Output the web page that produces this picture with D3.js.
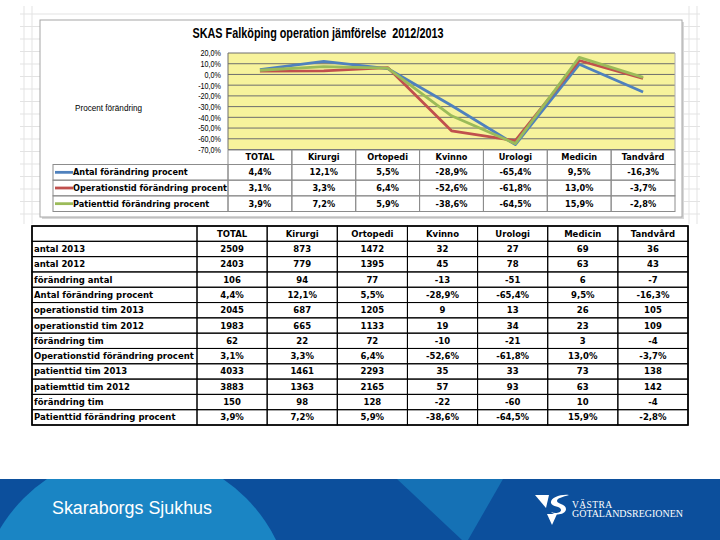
<!DOCTYPE html>
<html>
<head>
<meta charset="utf-8">
<script src="https://cdn.jsdelivr.net/npm/d3@7"></script>
<style>
  body { margin: 0; background: #fff; }
  svg { display: block; }
</style>
</head>
<body>
<svg id="slide" width="720" height="540"></svg>
<script>
// ---- data ----
const categories = ["TOTAL", "Kirurgi", "Ortopedi", "Kvinno", "Urologi", "Medicin", "Tandvård"];
const seriesNames = ["Antal förändring procent", "Operationstid förändring procent", "Patienttid förändring procent"];
const antalPct = [4.4, 12.1, 5.5, -28.9, -65.4, 9.5, -16.3];
const operationPct = [3.1, 3.3, 6.4, -52.6, -61.8, 13.0, -3.7];
const patientPct = [3.9, 7.2, 5.9, -38.6, -64.5, 15.9, -2.8];
const yTicks = [20, 10, 0, -10, -20, -30, -40, -50, -60, -70];

const antal2013 = [2509, 873, 1472, 32, 27, 69, 36];
const antal2012 = [2403, 779, 1395, 45, 78, 63, 43];
const forandringAntal = [106, 94, 77, -13, -51, 6, -7];
const opTim2013 = [2045, 687, 1205, 9, 13, 26, 105];
const opTim2012 = [1983, 665, 1133, 19, 34, 23, 109];
const forandringOpTim = [62, 22, 72, -10, -21, 3, -4];
const patTim2013 = [4033, 1461, 2293, 35, 33, 73, 138];
const patTim2012 = [3883, 1363, 2165, 57, 93, 63, 142];
const forandringPatTim = [150, 98, 128, -22, -60, 10, -4];

const pct = v => v.toFixed(1).replace(".", ",") + "%";
const num = v => String(v);

const tableRows = [
  ["antal 2013", antal2013, num],
  ["antal 2012", antal2012, num],
  ["förändring antal", forandringAntal, num],
  ["Antal förändring procent", antalPct, pct],
  ["operationstid tim 2013", opTim2013, num],
  ["operationstid tim 2012", opTim2012, num],
  ["förändring tim", forandringOpTim, num],
  ["Operationstid förändring procent", operationPct, pct],
  ["patienttid tim 2013", patTim2013, num],
  ["patiemttid tim 2012", patTim2012, num],
  ["förändring tim", forandringPatTim, num],
  ["Patienttid förändring procent", patientPct, pct]
];

const series = [antalPct, operationPct, patientPct];
const colors = ["#4f81bd", "#c0504d", "#9bbb59"];

const sans = "'Liberation Sans', Arial, sans-serif";
const boldFont = "'DejaVu Sans', Verdana, sans-serif";

// squeeze text horizontally to imitate Arial Narrow
function condense(sel, factor) {
  sel.each(function () {
    const w = this.getComputedTextLength();
    d3.select(this).attr("textLength", w * factor).attr("lengthAdjust", "spacingAndGlyphs");
  });
}

const svg = d3.select("#slide");

// ---- spreadsheet grid behind the chart ----
const grid = svg.append("g").attr("stroke", "#e3e3e3").attr("stroke-width", 1);
d3.range(14, 224, 12.5).forEach(yy => {
  grid.append("line").attr("x1", 20).attr("x2", 700).attr("y1", yy).attr("y2", yy);
});
[24, 32, 689, 697].forEach(xx => {
  grid.append("line").attr("x1", xx).attr("x2", xx).attr("y1", 6).attr("y2", 224);
});

// ---- chart frame ----
svg.append("rect").attr("x", 42).attr("y", 22).attr("width", 642).attr("height", 197).attr("fill", "#d8d8d8");
svg.append("rect").attr("x", 40).attr("y", 20).attr("width", 642).attr("height", 197)
  .attr("fill", "#fff").attr("stroke", "#a6a6a6").attr("stroke-width", 1);

svg.append("text").attr("x", 318).attr("y", 38).attr("text-anchor", "middle")
  .style("font-family", sans).style("font-weight", "bold").style("font-size", "14px")
  .style("white-space", "pre")
  .text("SKAS Falköping operation jämförelse  2012/2013")
  .attr("textLength", 251).attr("lengthAdjust", "spacingAndGlyphs");

const x = d3.scaleBand().domain(categories).range([228, 675]);
const y = d3.scaleLinear().domain([-70, 20]).range([149.5, 53]);

svg.append("rect").attr("x", 228).attr("y", y(20)).attr("width", 447).attr("height", y(-70) - y(20))
  .attr("fill", "#f7f39c");

svg.append("g").selectAll("line").data(yTicks).join("line")
  .attr("x1", 228).attr("x2", 675).attr("y1", d => y(d)).attr("y2", d => y(d))
  .attr("stroke", "#6e6e6e").attr("stroke-width", 1);
svg.append("line").attr("x1", 228).attr("x2", 228).attr("y1", y(20)).attr("y2", y(-70)).attr("stroke", "#6e6e6e");
svg.append("line").attr("x1", 675).attr("x2", 675).attr("y1", y(20)).attr("y2", y(-70)).attr("stroke", "#b0b0b0");

const yAxis = svg.append("g").attr("transform", "translate(228,0)")
  .call(d3.axisLeft(y).tickValues(yTicks).tickSize(0).tickPadding(7).tickFormat(pct));
yAxis.select(".domain").remove();
yAxis.selectAll("text").style("font-family", sans).style("font-size", "9px")
  .attr("fill", "#000").call(condense, 0.8);

svg.append("text").attr("x", 75).attr("y", 111)
  .style("font-family", sans).style("font-size", "9px")
  .text("Procent förändring").attr("textLength", 67).attr("lengthAdjust", "spacingAndGlyphs");

const line = d3.line().x((d, i) => x(categories[i]) + x.bandwidth() / 2).y(d => y(d));
svg.append("g").selectAll("path").data(series).join("path")
  .attr("d", line).attr("fill", "none").attr("stroke", (d, i) => colors[i])
  .attr("stroke-width", 2.8).attr("stroke-linejoin", "round");

// ---- data table under the chart ----
const dt = svg.append("g");
const headTop = 150, headBottom = 164.5;
const rowY = d3.scaleBand().domain(seriesNames).range([headBottom, 211.5]);
const dtFont = s => s.style("font-family", boldFont).style("font-weight", "bold").style("font-size", "8.2px");
dt.selectAll("rect.h").data(categories).join("rect").attr("class", "h")
  .attr("x", d => x(d)).attr("y", headTop).attr("width", x.bandwidth()).attr("height", headBottom - headTop)
  .attr("fill", "none").attr("stroke", "#8c8c8c");
dt.selectAll("text.h").data(categories).join("text").attr("class", "h")
  .attr("x", d => x(d) + x.bandwidth() / 2).attr("y", (headTop + headBottom) / 2).attr("dy", "0.36em")
  .attr("text-anchor", "middle").call(dtFont).text(d => d);

seriesNames.forEach((name, si) => {
  const ry = rowY(name), rh = rowY.bandwidth();
  dt.append("rect").attr("x", 53).attr("y", ry).attr("width", 228 - 53).attr("height", rh)
    .attr("fill", "none").attr("stroke", "#8c8c8c");
  dt.append("line").attr("x1", 55).attr("x2", 73).attr("y1", ry + rh / 2).attr("y2", ry + rh / 2)
    .attr("stroke", colors[si]).attr("stroke-width", 2.8);
  dt.append("text").attr("x", 73).attr("y", ry + rh / 2).attr("dy", "0.36em")
    .call(dtFont).text(name);
  categories.forEach((c, ci) => {
    dt.append("rect").attr("x", x(c)).attr("y", ry).attr("width", x.bandwidth()).attr("height", rh)
      .attr("fill", "none").attr("stroke", "#8c8c8c");
    dt.append("text").attr("x", x(c) + x.bandwidth() / 2).attr("y", ry + rh / 2).attr("dy", "0.36em")
      .attr("text-anchor", "middle").call(dtFont).text(pct(series[si][ci]));
  });
});

// ---- lower table ----
const tx = d3.scaleBand().domain(categories).range([197, 688]);
const ty = d3.scaleBand().domain(d3.range(tableRows.length + 1)).range([226, 425]);
const lt = svg.append("g");
const cellFont = s => s.style("font-family", boldFont).style("font-weight", "bold").style("font-size", "8.5px");

d3.range(tableRows.length + 1).forEach(ri => {
  const ry = ty(ri), rh = ty.bandwidth();
  lt.append("rect").attr("x", 32).attr("y", ry).attr("width", 197 - 32).attr("height", rh)
    .attr("fill", "none").attr("stroke", "#000").attr("stroke-width", 1);
  if (ri > 0) {
    lt.append("text").attr("x", 34).attr("y", ry + rh / 2).attr("dy", "0.36em")
      .call(cellFont).text(tableRows[ri - 1][0]);
  }
  categories.forEach((c, ci) => {
    lt.append("rect").attr("x", tx(c)).attr("y", ry).attr("width", tx.bandwidth()).attr("height", rh)
      .attr("fill", "none").attr("stroke", "#000").attr("stroke-width", 1);
    const label = ri === 0 ? c : tableRows[ri - 1][2](tableRows[ri - 1][1][ci]);
    lt.append("text").attr("x", tx(c) + tx.bandwidth() / 2).attr("y", ry + rh / 2).attr("dy", "0.36em")
      .attr("text-anchor", "middle").call(cellFont).text(label);
  });
});
lt.append("rect").attr("x", 32).attr("y", 226).attr("width", 688 - 32).attr("height", 425 - 226)
  .attr("fill", "none").attr("stroke", "#000").attr("stroke-width", 1.6);

// ---- footer band ----
const foot = svg.append("g");
foot.append("clipPath").attr("id", "band").append("rect").attr("x", 0).attr("y", 479).attr("width", 720).attr("height", 61);
foot.append("rect").attr("x", 0).attr("y", 479).attr("width", 720).attr("height", 61).attr("fill", "#0c4f9c");
const fg = foot.append("g").attr("clip-path", "url(#band)");
fg.append("circle").attr("cx", 135).attr("cy", 609).attr("r", 157).attr("fill", "#1a85c4");
fg.append("path").attr("d", "M397,479 L503,479 L468,540 L462,540 Z").attr("fill", "#1571b5");

foot.append("text").attr("x", 52).attr("y", 514)
  .style("font-family", sans).style("font-size", "18px")
  .attr("fill", "#fff").text("Skaraborgs Sjukhus").attr("textLength", 160).attr("lengthAdjust", "spacingAndGlyphs");

const logo = foot.append("g").attr("fill", "#fff");
logo.append("path").attr("d", "M535,495 L549,495 L546,508 Z");
logo.append("path").attr("d", "M569,495 C560,494 550,498 551,503 C552,507 561,506 561,510 C561,513 555,514 551,512 C554,516 566,515 566,509 C566,504 557,504 557,501 C557,498 563,497 569,495 Z");
logo.append("path").attr("d", "M547,514 L557,514 L552,525 Z");
logo.append("text").attr("x", 572).attr("y", 508)
  .style("font-family", "'Liberation Serif', 'DejaVu Serif', serif").style("font-size", "9.5px")
  .style("letter-spacing", "0.4px").text("VÄSTRA");
logo.append("text").attr("x", 572).attr("y", 517)
  .style("font-family", "'Liberation Serif', 'DejaVu Serif', serif").style("font-size", "9.5px")
  .text("GÖTALANDSREGIONEN").attr("textLength", 111).attr("lengthAdjust", "spacingAndGlyphs");
</script>
</body>
</html>
